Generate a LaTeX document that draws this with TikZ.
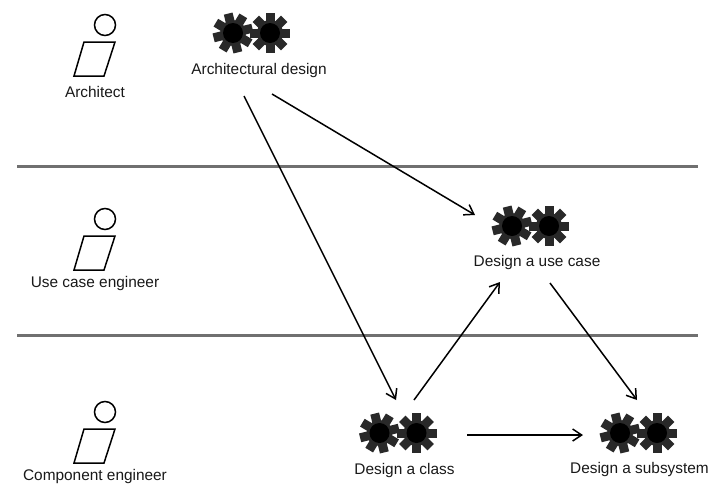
\documentclass[tikz,border=0pt]{standalone}
\usepackage{fontspec}
\setmainfont{Liberation Sans}
\usetikzlibrary{arrows.meta}
\tikzset{
  lane/.style={line width=3pt,draw=black!56},
  flow/.style={-{Straight Barb[length=9pt,width=12pt,line width=1.5pt]},line width=1.5pt,black},
  lbl/.style={inner sep=0pt,font=\fontsize{15.4}{18}\selectfont,text=black!90},
  head/.style={draw=black,line width=1.5pt,fill=white,circle,minimum size=21pt,inner sep=0pt},
  torso/.style={draw=black,line width=1.5pt,line join=miter},
  pics/gearwheel/.style={code={
    \fill[black!84] (0,0) circle (13);
    \foreach \a in {0,45,...,315}{
      \fill[black!84,rotate=\a+#1] (-4.5,0) rectangle (4.5,20);
    }
    \fill[black] (0,0) circle (10);
  }},
  pics/gearpair/.style={code={
    \pic at (-18.5,0) {gearwheel=14};
    \pic at (18.5,0) {gearwheel=0};
  }},
  pics/worker/.style={code={
    \node[head] (-head) at (10,0) {};
    \draw[torso] (-11,17) -- (20,17) -- (9,51) -- (-21,51) -- cycle;
  }}
}
\begin{document}
\begin{tikzpicture}[x=1pt,y=-1pt]
\useasboundingbox (0,0) rectangle (709,498);
\fill[white] (0,0) rectangle (709,498);
\coordinate (laneAL) at (17,166.6); \coordinate (laneAR) at (698,166.6);
\coordinate (laneBL) at (17,335.6); \coordinate (laneBR) at (698,335.6);
\draw[lane] (laneAL) -- (laneAR);
\draw[lane] (laneBL) -- (laneBR);

\pic (w1) at (95,25) {worker};
\pic (w2) at (95,219) {worker};
\pic (w3) at (95,412) {worker};
\node[lbl] (architect) at (95,92) {Architect};
\node[lbl] (usecaseeng) at (95,284) {Use case engineer};
\node[lbl] (compeng) at (95,477) {Component engineer};

\pic (g1) at (251.5,33) {gearpair};
\pic (g2) at (530.5,226) {gearpair};
\pic (g3) at (398,433) {gearpair};
\pic (g4) at (638.5,433) {gearpair};
\node[lbl] (archdesign) at (259,71) {Architectural design};
\node[lbl] (usecase) at (537,263) {Design a use case};
\node[lbl] (class) at (404.5,471) {Design a class};
\node[lbl] (subsystem) at (639.5,470) {Design a subsystem};

\coordinate (a1s) at (244,96); \coordinate (a1e) at (396,400);
\coordinate (a2s) at (272,94); \coordinate (a2e) at (475,215);
\coordinate (a3s) at (414,400); \coordinate (a3e) at (500,282);
\coordinate (a4s) at (550,283); \coordinate (a4e) at (637,400);
\coordinate (a5s) at (467,435); \coordinate (a5e) at (583,435);
\draw[flow] (a1s) -- (a1e);
\draw[flow] (a2s) -- (a2e);
\draw[flow] (a3s) -- (a3e);
\draw[flow] (a4s) -- (a4e);
\draw[flow] (a5s) -- (a5e);
\end{tikzpicture}
\end{document}
